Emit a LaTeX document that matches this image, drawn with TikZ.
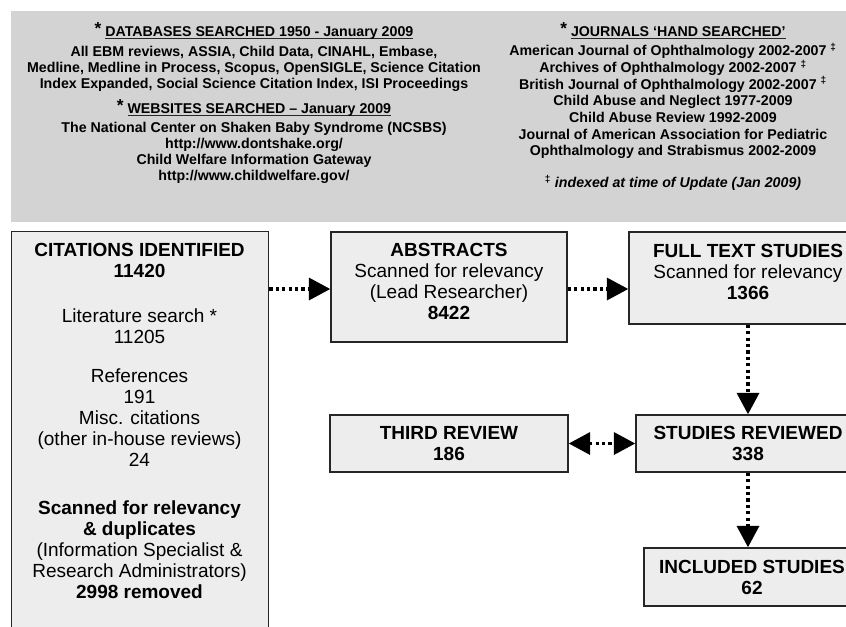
\documentclass[tikz,border=0pt]{standalone}
\usepackage{fontspec}
\setmainfont{Liberation Sans}
\usetikzlibrary{arrows.meta}

\definecolor{bandgrey}{HTML}{D3D3D3}
\definecolor{boxgrey}{HTML}{EDEDED}
\definecolor{edgegrey}{HTML}{262626}

% starred, underlined heading in the search band
\newcommand{\hdul}[1]{\setbox0\hbox{#1}\rlap{\color{edgegrey}\rule[-1.6pt]{\wd0}{0.55pt}}\box0}
\newcommand{\srch}[1]{\raisebox{1.5pt}{\fontsize{13pt}{13pt}\selectfont *}\ \hdul{#1}}
\newcommand{\dg}{\textsuperscript{‡}}

\begin{document}
\begin{tikzpicture}[x=0.75pt,y=-0.75pt,
  stagebox/.style={draw=edgegrey,line width=1.1pt,fill=boxgrey,align=center,inner sep=0pt,
    font=\fontsize{14.25pt}{15.75pt}\selectfont},
  flow/.style={line width=2.4pt,dash pattern=on 2.4pt off 2.4pt,
    -{Triangle[length=16pt,width=16.5pt]}},
  banner/.style={align=center,inner sep=0pt,anchor=north}]
\useasboundingbox (0,0) rectangle (846,626);

% search band
\fill[bandgrey] (11,11) rectangle (870,222);
\node[banner,font=\bfseries\fontsize{10.65pt}{11.8pt}\selectfont] (dbs) at (254,22.6)
  {\srch{DATABASES SEARCHED 1950 - January 2009}\\[3.2pt]
   All EBM reviews, ASSIA, Child Data, CINAHL, Embase,\\
   Medline, Medline in Process, Scopus, OpenSIGLE, Science Citation\\
   Index Expanded, Social Science Citation Index, ISI Proceedings\\[5.5pt]
   \srch{WEBSITES SEARCHED -- January 2009}\\[2.4pt]
   The National Center on Shaken Baby Syndrome (NCSBS)\\
   http://www.dontshake.org/\\
   Child Welfare Information Gateway\\
   http://www.childwelfare.gov/};
\node[banner,font=\bfseries\fontsize{10.65pt}{12.5pt}\selectfont] (jnl) at (673,22.6)
  {\srch{JOURNALS ‘HAND SEARCHED’}\\[1.7pt]
   American Journal of Ophthalmology 2002-2007 \dg\\
   Archives of Ophthalmology 2002-2007 \dg\\
   British Journal of Ophthalmology 2002-2007 \dg\\
   Child Abuse and Neglect 1977-2009\\
   Child Abuse Review 1992-2009\\
   Journal of American Association for Pediatric\\
   Ophthalmology and Strabismus 2002-2009\\[11.5pt]
   \dg\ \textit{indexed at time of Update (Jan 2009)}};

% citations column
\node[stagebox,minimum width=192.75pt,minimum height=322pt,anchor=north west] (cit) at (11,231) {};
\node[banner,font=\fontsize{14.25pt}{15.75pt}\selectfont] (citlist) at (139.5,243.4)
  {\textbf{CITATIONS IDENTIFIED}\\\textbf{11420}\\[18pt]
   Literature search *\\11205\\[13.5pt]
   References\\191\\Misc. citations\\(other in-house reviews)\\24\\[20pt]
   \textbf{Scanned for relevancy}\\\textbf{\& duplicates}\\
   (Information Specialist \&\\Research Administrators)\\\textbf{2998 removed}};

% stages
\node[stagebox,minimum width=177pt,minimum height=82.5pt,text depth=8pt] (abs) at (449,287)
  {\textbf{ABSTRACTS}\\Scanned for relevancy\\(Lead Researcher)\\\textbf{8422}};
\node[stagebox,minimum width=178.5pt,minimum height=69pt,text depth=9pt] (full) at (748,278)
  {\textbf{FULL TEXT STUDIES}\\Scanned for relevancy\\\textbf{1366}};
\node[stagebox,minimum width=178.5pt,minimum height=42.75pt] (third) at (449,443.5)
  {\textbf{THIRD REVIEW}\\\textbf{186}};
\node[stagebox,minimum width=168pt,minimum height=42.75pt] (rev) at (748,443.5)
  {\textbf{STUDIES REVIEWED}\\\textbf{338}};
\node[stagebox,minimum width=162pt,minimum height=43.5pt] (inc) at (752,577)
  {\textbf{INCLUDED STUDIES}\\\textbf{62}};

% connectors
\coordinate (lane) at (0,289);
\draw[flow] (cit.east |- lane) -- (abs.west |- lane);
\draw[flow] (abs.east |- lane) -- (full.west |- lane);
\draw[flow] (full.south) -- (rev.north);
\draw[flow,{Triangle[length=16pt,width=16.5pt]}-{Triangle[length=16pt,width=16.5pt]}] (third.east) -- (rev.west);
\draw[flow] (rev.south) -- (rev.south |- inc.north);
\end{tikzpicture}
\end{document}
